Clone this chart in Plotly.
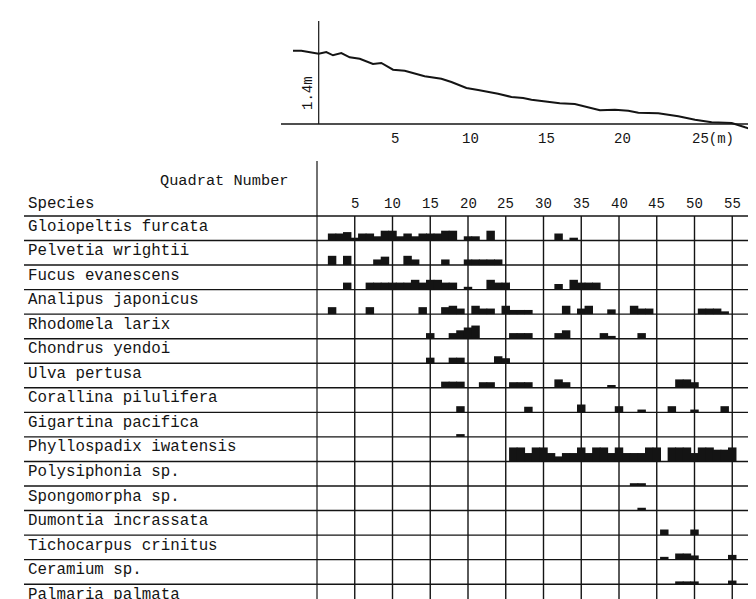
import plotly.graph_objects as go

# ------------------------------------------------------------------ data
# beach profile (distance along transect in m, relative elevation in m)
profile_dist = [-1.69, -1.14, 0.0, 0.5, 0.94, 1.49, 2.04, 2.70, 3.57, 4.12, 4.89, 5.66,
                6.97, 8.07, 8.73, 9.72, 10.49, 11.80, 12.68, 13.45, 14.0, 14.88, 15.86,
                16.85, 17.51, 18.5, 19.49, 20.37, 21.03, 22.34, 23.66, 24.76, 25.85,
                27.17, 28.05, 29.32]
profile_elev = [1.466, 1.466, 1.406, 1.44, 1.374, 1.42, 1.334, 1.306, 1.2, 1.22, 1.086,
                1.066, 0.954, 0.906, 0.84, 0.72, 0.68, 0.606, 0.54, 0.52, 0.486, 0.454,
                0.414, 0.40, 0.354, 0.274, 0.286, 0.266, 0.226, 0.214, 0.154, 0.086,
                0.034, 0.02, -0.066, -0.18]
profile_ticks = [5, 10, 15, 20, 25]
profile_tick_text = ["5", "10", "15", "20", "25(m)"]
height_label = "1.4m"

species = [
    "Gloiopeltis furcata", "Pelvetia wrightii", "Fucus evanescens", "Analipus japonicus",
    "Rhodomela larix", "Chondrus yendoi", "Ulva pertusa", "Corallina pilulifera",
    "Gigartina pacifica", "Phyllospadix iwatensis", "Polysiphonia sp.", "Spongomorpha sp.",
    "Dumontia incrassata", "Tichocarpus crinitus", "Ceramium sp.", "Palmaria palmata",
]
quadrat_ticks = [5, 10, 15, 20, 25, 30, 35, 40, 45, 50, 55]
header_left = "Species"
header_right = "Quadrat Number"

# cover per species: (first quadrat, last quadrat, cover value)
gloiopeltis = [(2, 3, 2.5), (4, 4, 3), (5, 5, 1), (6, 7, 2.5), (8, 8, 1.5), (9, 10, 3.5),
               (11, 11, 1.5), (12, 12, 2.5), (13, 13, 1.5), (14, 16, 2.5), (17, 18, 3.5),
               (20, 21, 1.5), (23, 23, 3.5), (32, 32, 2.5), (34, 34, 1)]
pelvetia = [(2, 2, 3.3), (4, 4, 3.3), (8, 8, 2), (9, 9, 3), (12, 12, 3.3), (13, 13, 2),
            (17, 17, 2), (20, 24, 2)]
fucus = [(4, 4, 2.5), (7, 12, 2.5), (13, 13, 3.5), (14, 14, 2.5), (15, 16, 3.5), (17, 18, 2.5),
         (20, 20, 1), (23, 23, 3.5), (24, 25, 2.5), (32, 32, 2), (34, 34, 3.5), (35, 37, 2.5)]
analipus = [(2, 2, 2.5), (7, 7, 2.5), (14, 14, 2.5), (17, 17, 2.5), (18, 18, 3), (19, 19, 2),
            (21, 21, 3), (22, 23, 2), (25, 25, 3), (26, 28, 1.5), (33, 33, 3), (35, 35, 2),
            (36, 36, 3), (39, 39, 1.7), (42, 42, 3), (43, 44, 2), (51, 53, 2), (54, 54, 1)]
rhodomela = [(15, 15, 2), (18, 18, 2), (19, 19, 3), (20, 20, 4), (21, 21, 4.7), (26, 28, 2),
             (32, 32, 2), (33, 33, 3), (38, 38, 2), (39, 39, 1), (43, 43, 2)]
chondrus = [(15, 15, 2), (18, 18, 2), (19, 19, 2), (24, 24, 2.5), (25, 25, 1.8)]
ulva = [(17, 19, 2.2), (22, 23, 2), (26, 28, 2), (32, 32, 3), (33, 33, 2), (39, 39, 1),
        (48, 49, 3), (50, 50, 2)]
corallina = [(19, 19, 2.2), (28, 28, 2), (35, 35, 2.8), (40, 40, 2.2), (43, 43, 1),
             (47, 47, 2.2), (50, 50, 1), (54, 54, 2.2)]
gigartina = [(19, 19, 1)]
phyllospadix = [(26, 27, 5), (28, 28, 3), (29, 30, 5), (31, 31, 3), (32, 32, 1.8), (33, 34, 3),
                (35, 35, 5), (36, 36, 3), (37, 38, 5), (39, 39, 3), (40, 40, 5), (41, 43, 3),
                (44, 45, 5), (47, 49, 5), (50, 50, 3), (51, 52, 5), (53, 54, 4.2), (55, 55, 5)]
polysiphonia = [(42, 43, 1)]
spongomorpha = [(43, 43, 1)]
dumontia = [(46, 46, 2), (50, 50, 2)]
tichocarpus = [(46, 46, 1), (48, 49, 2.2), (50, 50, 1.5), (55, 55, 1.7)]
ceramium = [(48, 50, 1), (55, 55, 1.3)]
palmaria = []

cover = [gloiopeltis, pelvetia, fucus, analipus, rhodomela, chondrus, ulva, corallina,
         gigartina, phyllospadix, polysiphonia, spongomorpha, dumontia, tichocarpus,
         ceramium, palmaria]

# ------------------------------------------------------------------ layout constants
W, H = 756, 599
INK = "#141414"
FONT = "Liberation Mono"

# top panel pixel calibration
T_X0, T_PXM = 310.7, 15.2      # px of 0 m, px per m
T_Y0, T_PYM = 116.0, 50.0      # px of 0 m elevation, px per m
T_BOTTOM = 140.0               # panel bottom px

# bottom panel pixel calibration
B_X0, B_PXQ = 309.0, 7.55      # px of quadrat 0, px per quadrat
B_Y0, B_PITCH = 232.5, 24.55   # px of first row baseline, row pitch
COVER_PX = 2.8                 # px per cover unit

fig = go.Figure()

# ---- profile
fig.add_trace(go.Scatter(x=profile_dist, y=profile_elev, mode="lines",
                         line=dict(color=INK, width=2), xaxis="x2", yaxis="y2",
                         hoverinfo="skip", showlegend=False))

# ---- cover bars
bx, by, bb = [], [], []
for i, runs in enumerate(cover):
    for a, b, c in runs:
        for q in range(a, b + 1):
            bx.append(q)
            by.append(c * COVER_PX / B_PITCH)
            bb.append(-i)
fig.add_trace(go.Bar(x=bx, y=by, base=bb, width=1.12, marker=dict(color=INK, line=dict(width=0)),
                     xaxis="x", yaxis="y", hoverinfo="skip", showlegend=False))

# axis ranges from calibrations
t_xr = [(0 - T_X0) / T_PXM, (W - T_X0) / T_PXM]
t_yr = [(T_Y0 - T_BOTTOM) / T_PYM, T_Y0 / T_PYM]
b_xr = [(0 - B_X0) / B_PXQ, (W - B_X0) / B_PXQ]
b_yr = [(B_Y0 - H) / B_PITCH, (B_Y0 - T_BOTTOM) / B_PITCH]

def qx(px):
    return (px - B_X0) / B_PXQ

def ry(py):
    return (B_Y0 - py) / B_PITCH

def paper_y(row):
    # paper coordinate of a row baseline, via the bottom y-axis mapping
    dom0, dom1 = 0, 1 - T_BOTTOM / H
    return dom0 + (row - b_yr[0]) / (b_yr[1] - b_yr[0]) * (dom1 - dom0)

shapes = []
line_style = dict(color=INK, width=1.4)
# top panel lines
shapes.append(dict(type="line", xref="x2", yref="y2", x0=(273 - T_X0) / T_PXM, x1=t_xr[1] + 1,
                   y0=0, y1=0, line=dict(color=INK, width=1.6)))
shapes.append(dict(type="line", xref="x2", yref="y2", x0=0, x1=0, y0=0,
                   y1=(T_Y0 - 13) / T_PYM, line=dict(color=INK, width=1.2)))
# bottom panel: header line and row lines
n = len(species)
for i in range(-1, n):
    shapes.append(dict(type="line", xref="x", yref="y", x0=qx(16), x1=b_xr[1] + 2,
                       y0=-i, y1=-i, line=line_style, layer="below"))
# vertical grid lines
for q in quadrat_ticks + [60]:
    shapes.append(dict(type="line", xref="x", yref="y", x0=q, x1=q, y0=1, y1=b_yr[0] - 1,
                       line=line_style, layer="below"))
# left axis
shapes.append(dict(type="line", xref="x", yref="y", x0=0, x1=0, y0=ry(153), y1=b_yr[0] - 1,
                   line=dict(color=INK, width=1.2), layer="below"))

ann = []
tf = dict(family=FONT, size=15.8, color=INK)
for i, name in enumerate(species):
    ann.append(dict(x=qx(18), y=paper_y(-i), xref="x", yref="paper", text=name,
                    showarrow=False, xanchor="left", yanchor="bottom", yshift=3, font=tf))
ann.append(dict(x=qx(18), y=ry(196), xref="x", yref="y", text=header_left, showarrow=False,
                xanchor="left", yanchor="middle", font=tf))
ann.append(dict(x=qx(283), y=ry(173), xref="x", yref="y", text=header_right, showarrow=False,
                xanchor="right", yanchor="middle", font=dict(family=FONT, size=15.3, color=INK)))
for q in quadrat_ticks:
    ann.append(dict(x=q, y=ry(196), xref="x", yref="y", text=str(q), showarrow=False,
                    xanchor="center", yanchor="middle", font=dict(family=FONT, size=14, color=INK)))
for d, t in zip(profile_ticks, profile_tick_text):
    if t.endswith("(m)"):
        ann.append(dict(x=d, y=(T_Y0 - 131) / T_PYM, xref="x2", yref="y2", text=t,
                        showarrow=False, xanchor="left", xshift=-9, yanchor="middle",
                        font=dict(family=FONT, size=14, color=INK)))
    else:
        ann.append(dict(x=d, y=(T_Y0 - 131) / T_PYM, xref="x2", yref="y2", text=t,
                        showarrow=False, xanchor="center", yanchor="middle",
                        font=dict(family=FONT, size=14, color=INK)))
ann.append(dict(x=(300 - T_X0) / T_PXM, y=(T_Y0 - 85) / T_PYM, xref="x2", yref="y2",
                text=height_label, textangle=-90, showarrow=False, xanchor="center",
                yanchor="middle", font=dict(family=FONT, size=14, color=INK)))

hidden = dict(visible=False, fixedrange=True)
fig.update_layout(
    width=W, height=H, margin=dict(l=0, r=0, t=0, b=0),
    paper_bgcolor="white", plot_bgcolor="rgba(0,0,0,0)",
    barmode="overlay", showlegend=False,
    xaxis=dict(domain=[0, 1], range=b_xr, **hidden),
    yaxis=dict(domain=[0, 1 - T_BOTTOM / H], range=b_yr, **hidden),
    xaxis2=dict(domain=[0, 1], range=t_xr, anchor="y2", **hidden),
    yaxis2=dict(domain=[1 - T_BOTTOM / H, 1], range=t_yr, anchor="x2", **hidden),
    shapes=shapes, annotations=ann,
)
fig.write_html("out.html")
